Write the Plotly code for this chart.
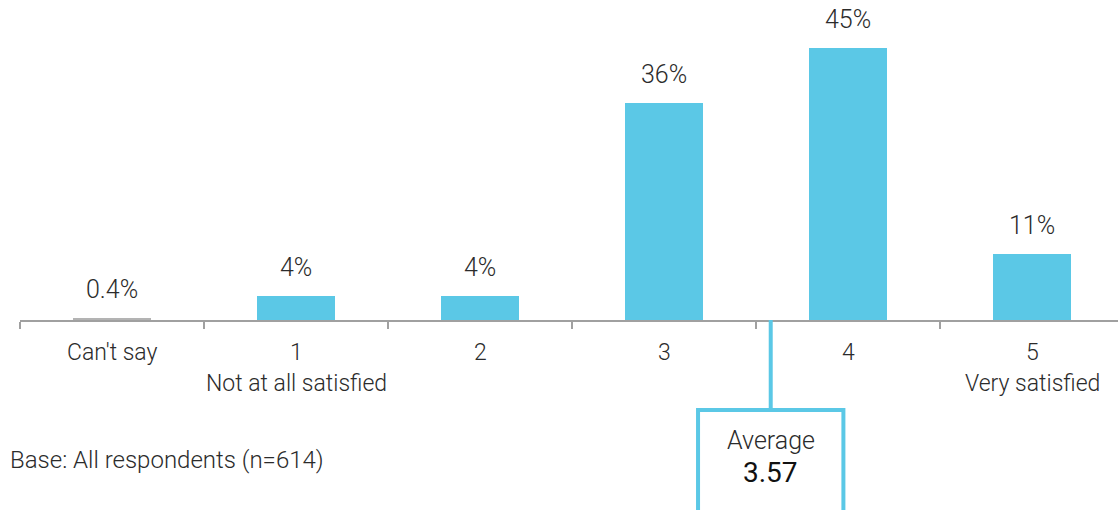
import plotly.graph_objects as go

# Satisfaction ratings (share of respondents, %)
categories = ["Can't say", "1", "2", "3", "4", "5"]
values = [0.4, 4, 4, 36, 45, 11]
value_labels = ["0.4%", "4%", "4%", "36%", "45%", "11%"]
sub_labels = {"1": "Not at all satisfied", "5": "Very satisfied"}
average_score = 3.57
base_note = "Base: All respondents (n=614)"

BLUE = "#5bc8e6"
GREY_BAR = "#b3b3b3"
AXIS = "#a0a0a0"
TEXT = "#2b2b2b"
FONT = "Roboto"
LIGHT = 300

W, H = 1118, 510
PLOT_TOP, PLOT_BOTTOM = 0, 320          # pixel extent of the plot area
PLOT_H = PLOT_BOTTOM - PLOT_TOP


def py(pixel_y):
    """Convert a pixel row to paper y coordinates."""
    return (PLOT_BOTTOM - pixel_y) / PLOT_H


bar_colors = [GREY_BAR] + [BLUE] * (len(categories) - 1)
xpos = list(range(len(categories)))

fig = go.Figure(
    go.Bar(
        x=xpos,
        y=values,
        width=0.42,
        marker=dict(color=bar_colors, line=dict(width=0)),
        hoverinfo="skip",
    )
)

label_font = dict(family=FONT, size=23, color=TEXT, weight=LIGHT)

annotations = []
# value labels above the bars
for x, v, lab in zip(xpos, values, value_labels):
    annotations.append(dict(
        x=x, y=v, xref="x", yref="y", text=lab, showarrow=False,
        yanchor="bottom", yshift=12,
        font=dict(family=FONT, size=25, color=TEXT, weight=LIGHT),
    ))
# category labels under the axis
for x, c in zip(xpos, categories):
    annotations.append(dict(
        x=x, y=py(352), xref="x", yref="paper", text=c, showarrow=False,
        yanchor="middle", font=label_font,
    ))
    if c in sub_labels:
        annotations.append(dict(
            x=x, y=py(383), xref="x", yref="paper", text=sub_labels[c],
            showarrow=False, yanchor="middle", font=label_font,
        ))
# base note
annotations.append(dict(
    x=0, y=py(460), xref="paper", yref="paper", text=base_note,
    showarrow=False, xanchor="left", yanchor="middle", xshift=-12,
    font=dict(family=FONT, size=24, color=TEXT, weight=LIGHT),
))

# average callout: connector from the axis and a framed box
box_half = 0.405
box_top, box_bottom = 408, 512
shapes = [
    dict(type="line", xref="x", yref="paper",
         x0=average_score + 0.01, x1=average_score + 0.01,
         y0=py(PLOT_BOTTOM), y1=py(box_top),
         line=dict(color=BLUE, width=4)),
    dict(type="rect", xref="x", yref="paper",
         x0=average_score - box_half + 0.02, x1=average_score + box_half,
         y0=py(box_top + 2), y1=py(box_bottom),
         line=dict(color=BLUE, width=4), fillcolor="white"),
]
annotations.append(dict(
    x=average_score + 0.01, y=py(440), xref="x", yref="paper", text="Average",
    showarrow=False, yanchor="middle",
    font=dict(family=FONT, size=25, color=TEXT, weight=LIGHT),
))
annotations.append(dict(
    x=average_score + 0.01, y=py(472), xref="x", yref="paper",
    text=f"{average_score:.2f}",
    showarrow=False, yanchor="middle",
    font=dict(family=FONT, size=28, color="#111111", weight=400),
))

fig.update_layout(
    width=W, height=H,
    margin=dict(l=20, r=0, t=PLOT_TOP, b=H - PLOT_BOTTOM, pad=0),
    plot_bgcolor="white", paper_bgcolor="white",
    showlegend=False,
    bargap=0,
    annotations=annotations,
    shapes=shapes,
    xaxis=dict(
        range=[-0.5, -0.5 + (W - 20) / 184],
        tickmode="array",
        tickvals=[i - 0.5 for i in range(len(categories))],
        ticktext=[""] * len(categories),
        ticks="outside", ticklen=7, tickwidth=1.5, tickcolor=AXIS,
        showline=True, linecolor=AXIS, linewidth=2,
        showgrid=False, zeroline=False, fixedrange=True,
    ),
    yaxis=dict(
        range=[0, PLOT_H / 6.04],
        visible=False, showgrid=False, zeroline=False, fixedrange=True,
    ),
)

fig.write_html("out.html")
